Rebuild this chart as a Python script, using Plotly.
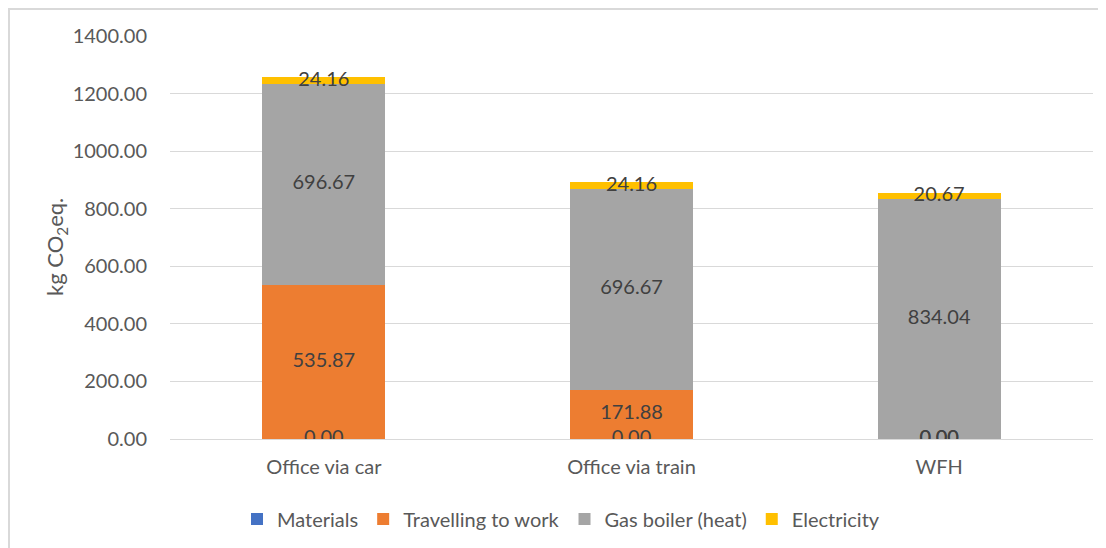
import plotly.graph_objects as go

categories = ["Office via car", "Office via train", "WFH"]
materials = [0.00, 0.00, 0.00]
travelling = [535.87, 171.88, 0.00]
gas_boiler = [696.67, 696.67, 834.04]
electricity = [24.16, 24.16, 20.67]
y_title = "kg CO<sub>2</sub>eq."

series = [
    ("Materials", materials, "#4472C4"),
    ("Travelling to work", travelling, "#ED7D31"),
    ("Gas boiler (heat)", gas_boiler, "#A5A5A5"),
    ("Electricity", electricity, "#FFC000"),
]

FONT = "Lato"
fig = go.Figure()
base = [0.0] * len(categories)
label_x, label_y, label_t = [], [], []
for name, vals, color in series:
    fig.add_trace(go.Bar(x=categories, y=vals, name=name, marker_color=color,
                         marker_line_width=0))
    for i, v in enumerate(vals):
        label_x.append(categories[i])
        label_y.append(base[i] + v / 2)
        label_t.append(f"{v:.2f}")
        base[i] += v

fig.add_trace(go.Scatter(x=label_x, y=label_y, text=label_t, mode="text",
                         textfont=dict(family=FONT, size=20, color="#404040"),
                         showlegend=False, hoverinfo="skip"))

# page has an 8px body margin: figure drawn at (8, 8)
W, H = 1098, 540
L, T = 162, 28
R = W - 1085
B = H - 431
pw = W - L - R
ph = H - T - B

fig.update_layout(
    width=W, height=H,
    barmode="stack", bargap=0.6,
    plot_bgcolor="white", paper_bgcolor="white",
    margin=dict(l=L, r=R, t=T, b=B, autoexpand=False),
    font=dict(family=FONT, size=20, color="#595959"),
    legend=dict(orientation="h", x=553 / W, xanchor="center", xref="container",
                y=(H - 511) / H, yanchor="middle", yref="container",
                font=dict(size=20, color="#595959"), itemwidth=30,
                traceorder="normal"),
    shapes=[dict(type="rect", xref="paper", yref="paper",
                 x0=(1 - L) / pw, x1=(1096 - L) / pw,
                 y0=-(H + 5 - T - ph) / ph, y1=1 + (T - 1) / ph,
                 line=dict(color="#D9D9D9", width=2), layer="below")],
    annotations=[dict(text=y_title, textangle=-90, showarrow=False,
                      xref="paper", yref="paper",
                      x=(48 - L) / pw, y=(431 - 239) / ph,
                      xanchor="center", yanchor="middle",
                      font=dict(family=FONT, size=22, color="#595959"))],
)
fig.update_yaxes(range=[0, 1400], dtick=200, tickformat=".2f",
                 gridcolor="#D9D9D9", gridwidth=1, zeroline=True,
                 zerolinecolor="#D9D9D9", zerolinewidth=1, showline=False,
                 ticklabelstandoff=22, automargin=False,
                 tickfont=dict(size=20, color="#595959"))
fig.update_xaxes(showline=False, ticks="", automargin=False, ticklabelstandoff=14,
                 tickfont=dict(size=20, color="#595959"))

fig.write_html("out.html")
